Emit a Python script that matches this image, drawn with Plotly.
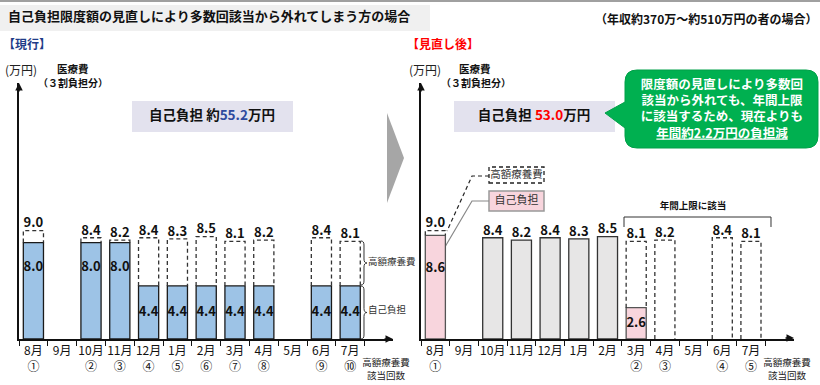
import plotly.graph_objects as go
import numpy as np

W, H = 820, 385

months = ['8月', '9月', '10月', '11月', '12月', '1月', '2月', '3月', '4月', '5月', '6月', '7月']

# left panel (current)
left_total = [9.0, None, 8.4, 8.2, 8.4, 8.3, 8.5, 8.1, 8.2, None, 8.4, 8.1]
left_self = [8.0, None, 8.0, 8.0, 4.4, 4.4, 4.4, 4.4, 4.4, None, 4.4, 4.4]
left_count = ['①', '', '②', '③', '④', '⑤', '⑥', '⑦', '⑧', '', '⑨', '⑩']

# right panel (after review)
right_total = [9.0, None, 8.4, 8.2, 8.4, 8.3, 8.5, 8.1, 8.2, None, 8.4, 8.1]
right_pink = [8.6, None, None, None, None, None, None, 2.6, None, None, None, None]
right_gray = [None, None, 8.4, 8.2, 8.4, 8.3, 8.5, None, None, None, None, None]
right_count = ['①', '', '', '', '', '', '', '②', '③', '', '④', '⑤']

FONT = "Noto Sans CJK JP"
BAR_W = 0.7
YMAX = 21.24
DASH = "4px,3px"


def px(x):
    return x / W


def py(y):
    return 1 - y / H


def P(x, y):
    return f"{px(x):.5f},{py(y):.5f}"


fig = go.Figure()

# ---------- left panel ----------
fig.add_trace(go.Bar(x=months, y=left_self, width=BAR_W, marker=dict(color='#9dc3e6', line=dict(color='#1a1a1a', width=1.3)),
                     xaxis='x', yaxis='y', hoverinfo='skip'))
lt_x = [m for m, v in zip(months, left_total) if v is not None]
lt_y = [v for v in left_total if v is not None]
fig.add_trace(go.Scatter(x=lt_x, y=lt_y, mode='text', text=[f"<b>{v:.1f}</b>" for v in lt_y], textposition='top center',
                         textfont=dict(family=FONT, size=13, color='#111'), cliponaxis=False,
                         xaxis='x', yaxis='y', hoverinfo='skip'))
ls_y = np.array([v for v in left_self if v is not None])
fig.add_trace(go.Scatter(x=lt_x, y=np.where(ls_y > 6, 5.9, ls_y / 2), mode='text', text=[f"<b>{v:.1f}</b>" for v in ls_y],
                         textposition='middle center',
                         textfont=dict(family=FONT, size=13, color='#111'), xaxis='x', yaxis='y', hoverinfo='skip'))

# ---------- right panel ----------
fig.add_trace(go.Bar(x=months, y=right_gray, width=BAR_W, marker=dict(color='#e7e6e6', line=dict(color='#333', width=1.3)),
                     xaxis='x2', yaxis='y2', hoverinfo='skip'))
fig.add_trace(go.Bar(x=months, y=right_pink, width=BAR_W, marker=dict(color='#f8d5dd', line=dict(color='#555', width=1.3)),
                     xaxis='x2', yaxis='y2', hoverinfo='skip'))
rt_x = [m for m, v in zip(months, right_total) if v is not None]
rt_y = [v for v in right_total if v is not None]
fig.add_trace(go.Scatter(x=rt_x, y=rt_y, mode='text', text=[f"<b>{v:.1f}</b>" for v in rt_y], textposition='top center',
                         textfont=dict(family=FONT, size=13, color='#111'), cliponaxis=False,
                         xaxis='x2', yaxis='y2', hoverinfo='skip'))
rp_x = [m for m, v in zip(months, right_pink) if v is not None]
rp_y = np.array([v for v in right_pink if v is not None])
fig.add_trace(go.Scatter(x=rp_x, y=np.where(rp_y > 6, 5.8, rp_y / 2), mode='text', text=[f"<b>{v:.1f}</b>" for v in rp_y],
                         textposition='middle center',
                         textfont=dict(family=FONT, size=13, color='#111'), xaxis='x2', yaxis='y2', hoverinfo='skip'))

shapes = []
# dashed outlines (high-cost benefit part)
for i, (t, s) in enumerate(zip(left_total, left_self)):
    if t is None:
        continue
    b = s if s is not None else 0
    shapes.append(dict(type='path', xref='x', yref='y',
                       path=f"M {i-BAR_W/2},{b} L {i-BAR_W/2},{t} L {i+BAR_W/2},{t} L {i+BAR_W/2},{b}",
                       line=dict(color='#333', width=1.3, dash=DASH), layer='above'))
for i, (t, p, g) in enumerate(zip(right_total, right_pink, right_gray)):
    if t is None or g is not None:
        continue
    b = p if p is not None else 0
    shapes.append(dict(type='path', xref='x2', yref='y2',
                       path=f"M {i-BAR_W/2},{b} L {i-BAR_W/2},{t} L {i+BAR_W/2},{t} L {i+BAR_W/2},{b}",
                       line=dict(color='#333', width=1.3, dash=DASH), layer='above'))

def S(**kw):
    d = dict(xref='paper', yref='paper', layer='below')
    d.update(kw)
    shapes.append(d)

S(type='line', x0=0, x1=1, y0=py(1), y1=py(1), line=dict(color='#a0a0a0', width=2))
S(type='rect', x0=px(0), x1=px(430), y0=py(31), y1=py(5), fillcolor='#f0f0f0', line=dict(width=0))
S(type='rect', x0=px(132), x1=px(293), y0=py(132), y1=py(101), fillcolor='#e3e2ee', line=dict(width=0))
S(type='rect', x0=px(454), x1=px(615), y0=py(132), y1=py(101), fillcolor='#e3e2ee', line=dict(width=0))
S(type='path', path=f"M {P(387,113)} L {P(404,158)} L {P(387,203)} Z", fillcolor='#a6a6a6', line=dict(width=0))
L_, R_, T_, B_, r = 625, 818, 70, 148, 12
cpath = (f"M {P(L_+r,T_)} L {P(R_-r,T_)} Q {P(R_,T_)} {P(R_,T_+r)} L {P(R_,B_-r)} Q {P(R_,B_)} {P(R_-r,B_)} "
         f"L {P(L_+r,B_)} Q {P(L_,B_)} {P(L_,B_-r)} L {P(L_,128)} L {P(605,113)} L {P(L_,102)} "
         f"L {P(L_,T_+r)} Q {P(L_,T_)} {P(L_+r,T_)} Z")
S(type='path', path=cpath, fillcolor='#00b050', line=dict(color='#00a048', width=1))


def brace(x0, y0, y1):
    ym = (y0 + y1) / 2
    return (f"M {P(x0,y0)} Q {P(x0+3,y0)} {P(x0+3,y0+4)} L {P(x0+3,ym-4)} Q {P(x0+3,ym)} {P(x0+6,ym)} "
            f"Q {P(x0+3,ym)} {P(x0+3,ym+4)} L {P(x0+3,y1-4)} Q {P(x0+3,y1)} {P(x0,y1)}")


S(type='path', path=brace(361, 241, 285), line=dict(color='#333', width=1))
S(type='path', path=brace(361, 286, 339), line=dict(color='#333', width=1))
S(type='rect', x0=px(489), x1=px(544), y0=py(183), y1=py(167), fillcolor='white', line=dict(color='#222', width=1.3, dash=DASH))
S(type='rect', x0=px(489), x1=px(544), y0=py(211), y1=py(191), fillcolor='#f8d5dd', line=dict(color='#999', width=1.5))
S(type='path', path=f"M {P(489,176)} L {P(472,176)} L {P(447,231)}", line=dict(color='#222', width=1.2, dash=DASH))
S(type='path', path=f"M {P(489,201)} L {P(472,201)} L {P(442,252)}", line=dict(color='#888', width=1.2))
S(type='path', path=f"M {P(624,227)} L {P(624,217)} L {P(771,217)} L {P(771,227)}", line=dict(color='#333', width=1))

# ---------- free text on a full-page overlay axis (pixel units) ----------
def T(x, y, text, size=12, color='#111', pos='middle right', bold=False):
    fig.add_trace(go.Scatter(x=[x], y=[y], mode='text', text=[f"<b>{text}</b>" if bold else text], textposition=pos,
                             textfont=dict(family=FONT, size=size, color=color), xaxis='x3', yaxis='y3',
                             hoverinfo='skip', cliponaxis=False))


T(8, 18, '自己負担限度額の見直しにより多数回該当から外れてしまう方の場合', 13, bold=True)
T(595, 21, '（年収約370万～約510万円の者の場合）', 12, bold=True)
T(3, 46, '【現行】', 12, '#1f3c88', bold=True)
T(407, 46, '【見直し後】', 12, '#ff0000', bold=True)
T(5, 72, '(万円)', 12, '#222')
T(409, 72, '(万円)', 12, '#222')
T(57, 70, '医療費', 10.5, bold=True)
T(38, 84, '（３割負担分）', 10, bold=True)
T(459, 70, '医療費', 10.5, bold=True)
T(441, 84, '（３割負担分）', 10, bold=True)
T(212, 117, "自己負担 約<span style='color:#2e4a9e'>55.2</span>万円", 13.5, pos='middle center', bold=True)
T(534, 117, "自己負担 <span style='color:#ff0000'>53.0</span>万円", 13.5, pos='middle center', bold=True)
T(722, 110, '限度額の見直しにより多数回<br>該当から外れても、年間上限<br>に該当するため、現在よりも<br><u>年間約2.2万円の負担減</u>',
  12.5, 'white', pos='middle center', bold=True)
T(368, 263, '高額療養費', 9.5, '#333')
T(368, 311, '自己負担', 9.5, '#333')
T(516.5, 175, '高額療養費', 10.5, '#333', pos='middle center')
T(516.5, 201, '自己負担', 11, '#333', pos='middle center')
T(693, 207, '年間上限に該当', 9.5, pos='middle center', bold=True)
for cx in (386, 787):
    T(cx, 370, '高額療養費<br>該当回数', 9.5, '#222', pos='middle center')

ann = []
for (xa_, yb) in ((393, 339), (794, 338)):
    ann.append(dict(x=px(xa_), y=py(yb), xref='paper', yref='paper', ax=-10, ay=0, text='', showarrow=True,
                    arrowhead=2, arrowsize=1, arrowwidth=1.5, arrowcolor='#111'))
for xl in (19, 421):
    ann.append(dict(x=px(xl), y=py(83), xref='paper', yref='paper', ax=0, ay=10, text='', showarrow=True,
                    arrowhead=2, arrowsize=1, arrowwidth=1.5, arrowcolor='#111'))


def ticks(counts):
    return [f"{m}<br>{c}" for m, c in zip(months, counts)]


xcommon = dict(type='category', categoryorder='array', categoryarray=months, range=[-0.5, 12.5], showline=True,
               linecolor='#111', linewidth=1.5, ticks='outside', tickson='boundaries', ticklen=5, tickcolor='#111',
               tickangle=0, showgrid=False, zeroline=False, tickfont=dict(family=FONT, size=12, color='#111'),
               fixedrange=True)
ycommon = dict(range=[0, YMAX], domain=[py(339), py(83)], showline=True, linecolor='#111', linewidth=1.5,
               showticklabels=False, ticks='', showgrid=False, zeroline=False, fixedrange=True)

fig.update_layout(
    width=W, height=H, autosize=False, margin=dict(l=0, r=0, t=0, b=0),
    paper_bgcolor='white', plot_bgcolor='rgba(0,0,0,0)', showlegend=False, barmode='overlay',
    xaxis=dict(xcommon, domain=[px(19), px(393.4)], anchor='y', tickmode='array', tickvals=months,
               ticktext=ticks(left_count)),
    yaxis=dict(ycommon, anchor='x'),
    xaxis2=dict(xcommon, domain=[px(421), px(794)], anchor='y2', tickmode='array', tickvals=months,
                ticktext=ticks(right_count)),
    yaxis2=dict(ycommon, anchor='x2'),
    xaxis3=dict(domain=[0, 1], range=[0, W], visible=False, anchor='y3', fixedrange=True),
    yaxis3=dict(domain=[0, 1], range=[H, 0], visible=False, anchor='x3', fixedrange=True),
    shapes=shapes, annotations=ann, font=dict(family=FONT),
)

fig.write_html("out.html", config={'displayModeBar': False},
               post_script="document.body.style.margin='0';document.body.style.overflow='hidden';")
